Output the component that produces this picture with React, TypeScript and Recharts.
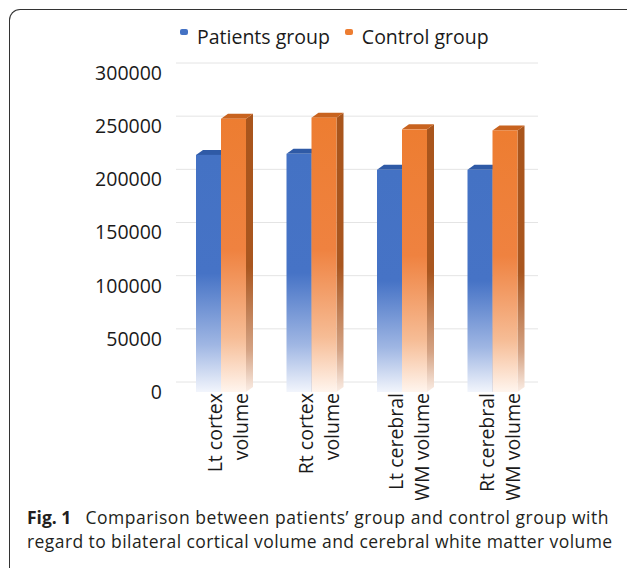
import React from 'react';
import { BarChart, Bar, XAxis, YAxis, CartesianGrid, Legend } from 'recharts';

const categories = [
  'Lt cortex volume',
  'Rt cortex volume',
  'Lt cerebral WM volume',
  'Rt cerebral WM volume',
];
const tickLines = [
  ['Lt cortex', 'volume'],
  ['Rt cortex', 'volume'],
  ['Lt cerebral', 'WM volume'],
  ['Rt cerebral', 'WM volume'],
];
const patients = [223000, 224000, 209000, 209000];
const controls = [257000, 258000, 247000, 246000];
const yTicks = [0, 50000, 100000, 150000, 200000, 250000, 300000];
const seriesNames = ['Patients group', 'Control group'];

const data = categories.map((name, i) => ({
  name,
  patients: patients[i],
  controls: controls[i],
}));

const FONT = '"Open Sans", "Noto Sans", sans-serif';
const Y_MAX = 300000;
const DX = 7;
const DY = 5;
const WALL_SHIFT = 10; // back-wall gridlines sit a bit above the labels

interface Bar3DProps {
  x?: number;
  y?: number;
  width?: number;
  height?: number;
  front: string;
  top: string;
  side: string;
}

// front face + a thin top and right face to fake the 3D column look
function Bar3D({ x = 0, y = 0, width = 0, height = 0, front, top, side }: Bar3DProps) {
  if (height <= 0) return null;
  const r = x + width;
  const b = y + height;
  return (
    <g>
      <polygon points={`${r},${y} ${r + DX},${y - DY} ${r + DX},${b - DY} ${r},${b}`} fill={side} />
      <polygon points={`${x},${y} ${r},${y} ${r + DX},${y - DY} ${x + DX},${y - DY}`} fill={top} />
      <rect x={x} y={y} width={width} height={height} fill={front} />
    </g>
  );
}

function CategoryTick(props: any) {
  const { x, y, payload } = props;
  const idx = categories.indexOf(payload?.value);
  const lines = tickLines[idx] ?? [String(payload?.value)];
  return (
    <g transform={`translate(${x + 1},${y})`}>
      <text transform="rotate(-90)" textAnchor="end" fontSize={19.5} fill="#1a1a1a" fontFamily={FONT}>
        {lines.map((l, i) => (
          <tspan key={i} x={0} y={i * 26}>
            {l}
          </tspan>
        ))}
      </text>
    </g>
  );
}

function LegendContent() {
  const colors = ['#4472c4', '#ed7d31'];
  return (
    <div style={{ display: 'flex', fontFamily: FONT, fontSize: 19.5, color: '#1a1a1a', lineHeight: '26px', whiteSpace: 'nowrap' }}>
      {seriesNames.map((n, i) => (
        <div key={n} style={{ display: 'flex', alignItems: 'flex-start', marginRight: 15 }}>
          <span
            style={{
              display: 'inline-block',
              width: 8,
              height: 6,
              borderRadius: 2,
              background: colors[i],
              marginTop: 5,
              marginRight: 9,
            }}
          />
          <span>{n}</span>
        </div>
      ))}
    </div>
  );
}

export default function App() {
  const gridGen = (args: any) => {
    const off = args?.offset;
    if (!off || typeof off.top !== 'number') return [];
    return yTicks.map((t) => off.top + off.height * (1 - t / Y_MAX) - WALL_SHIFT);
  };

  return (
    <div style={{ position: 'relative', width: 627, height: 568, background: '#fff', overflow: 'hidden' }}>
      <style>{`body{margin:0}`}</style>
      <div
        style={{
          position: 'absolute',
          left: 9,
          top: 9,
          width: 640,
          height: 600,
          borderTop: '1.5px solid #333',
          borderLeft: '1.5px solid #333',
          borderTopLeftRadius: 11,
        }}
      />
      <div style={{ position: 'absolute', left: 0, top: 0 }}>
        <BarChart
          width={627}
          height={500}
          data={data}
          margin={{ top: 73, right: 89, bottom: 0, left: 0 }}
          barSize={25}
          barGap={0}
          style={{ fontFamily: FONT }}
        >
          <defs>
            <linearGradient id="gBlue" x1="0" y1="0" x2="0" y2="1">
              <stop offset="0" stopColor="#4472c4" />
              <stop offset="0.5" stopColor="#4673c6" />
              <stop offset="0.8" stopColor="#9fb6e3" />
              <stop offset="1" stopColor="#f2f5fc" />
            </linearGradient>
            <linearGradient id="gOrange" x1="0" y1="0" x2="0" y2="1">
              <stop offset="0" stopColor="#ed7d31" />
              <stop offset="0.48" stopColor="#ef8240" />
              <stop offset="0.8" stopColor="#f6bc95" />
              <stop offset="1" stopColor="#fff5ee" />
            </linearGradient>
            <linearGradient id="gOrangeSide" x1="0" y1="0" x2="0" y2="1">
              <stop offset="0" stopColor="#a9551c" />
              <stop offset="0.55" stopColor="#a9561f" />
              <stop offset="0.85" stopColor="#d5a384" />
              <stop offset="1" stopColor="#fbeee6" />
            </linearGradient>
          </defs>
          <CartesianGrid vertical={false} stroke="#e4e4e4" horizontalCoordinatesGenerator={gridGen} />
          <XAxis
            dataKey="name"
            interval={0}
            height={108}
            axisLine={false}
            tickLine={false}
            tickSize={0}
            tickMargin={1}
            tick={<CategoryTick />}
          />
          <YAxis
            width={176}
            domain={[0, Y_MAX]}
            ticks={yTicks}
            axisLine={false}
            tickLine={false}
            tickSize={0}
            tickMargin={14}
            tick={{ fontSize: 19.5, fill: '#1a1a1a', fontFamily: FONT }}
          />
          <Legend
            verticalAlign="top"
            content={<LegendContent />}
            wrapperStyle={{ top: 24, left: 180, width: 360, height: 0 }}
          />
          <Bar
            dataKey="patients"
            name={seriesNames[0]}
            fill="#4472c4"
            isAnimationActive={false}
            shape={(p: any) => <Bar3D {...p} front="url(#gBlue)" top="#2f5aa6" side="#2a4f94" />}
          />
          <Bar
            dataKey="controls"
            name={seriesNames[1]}
            fill="#ed7d31"
            isAnimationActive={false}
            shape={(p: any) => <Bar3D {...p} front="url(#gOrange)" top="#c8631f" side="url(#gOrangeSide)" />}
          />
        </BarChart>
      </div>
      <div
        style={{
          position: 'absolute',
          left: 27,
          top: 506,
          fontFamily: FONT,
          fontSize: 17.5,
          letterSpacing: 0.42,
          lineHeight: '23.8px',
          color: '#231f20',
          whiteSpace: 'nowrap',
        }}
      >
        <div style={{ letterSpacing: 0.55 }}>
          <b style={{ letterSpacing: 0, marginRight: 14 }}>Fig. 1</b>Comparison between patients’ group and control group with
        </div>
        <div>regard to bilateral cortical volume and cerebral white matter volume</div>
      </div>
    </div>
  );
}
